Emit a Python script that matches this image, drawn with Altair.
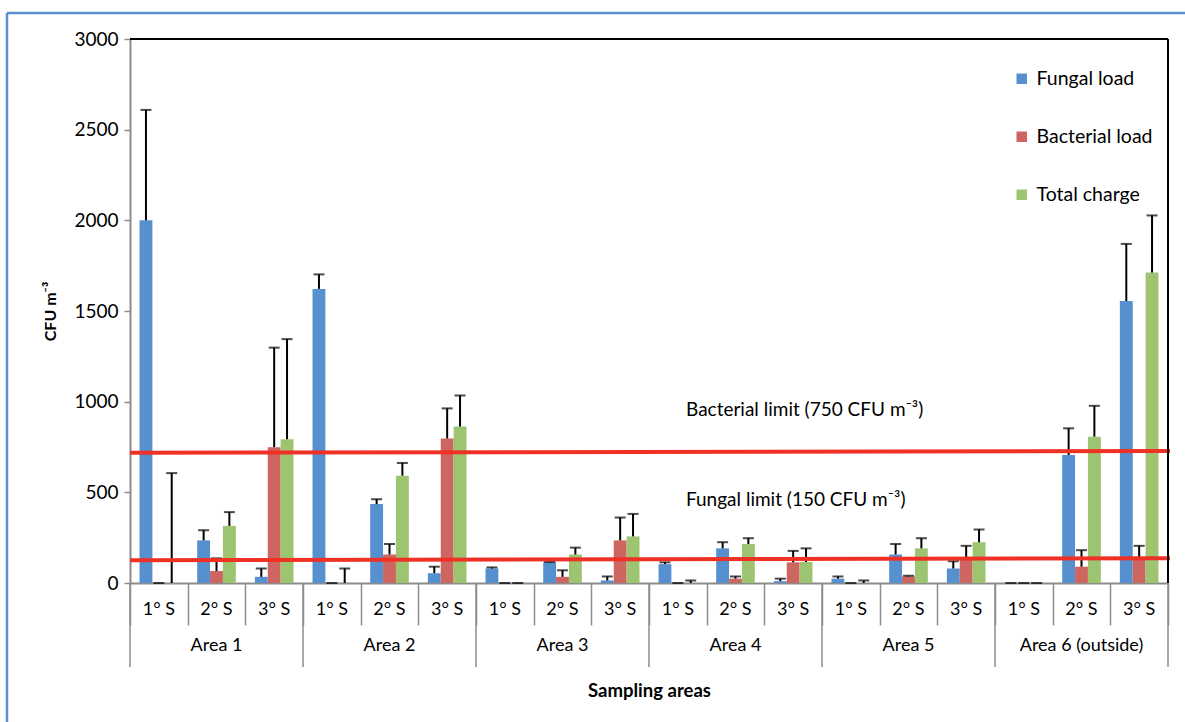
import altair as alt
import pandas as pd

areas = ["Area 1", "Area 2", "Area 3", "Area 4", "Area 5", "Area 6 (outside)"]
samplings = ["1° S", "2° S", "3° S"]
series = ["Fungal load", "Bacterial load", "Total charge"]
colors = ["#5690CE", "#CD6560", "#9DC471"]

fungal = [2000, 235, 34, 1622, 435, 54, 80, 114, 14, 104, 191, 10, 24, 157, 80, 0, 706, 1555]
fungal_top = [2609, 291, 80, 1702, 462, 90, 86, 116, 36, 114, 225, 24, 36, 215, 120, 0, 853, 1870]
bacterial = [0, 66, 749, 0, 157, 797, 0, 34, 235, 0, 24, 114, 0, 36, 136, 0, 90, 140]
bacterial_top = [0, 136, 1298, 0, 215, 963, 0, 70, 361, 0, 36, 177, 0, 40, 205, 0, 181, 205]
total = [0, 315, 793, 0, 592, 863, 0, 157, 257, 0, 215, 116, 0, 191, 225, 0, 807, 1712]
total_top = [606, 391, 1345, 80, 662, 1034, 0, 195, 381, 14, 247, 191, 14, 247, 295, 0, 977, 2027]

limit_labels = ["Bacterial limit (750 CFU m⁻³)", "Fungal limit (150 CFU m⁻³)"]
limit_left = [718, 126]
limit_right = [728, 136]
limit_text_y = [954, 458]

W, H = 1038, 544

cats = [f"{a}|{s}" for a in areas for s in samplings]
cat_area = [a for a in areas for s in samplings]
cat_samp = [s for a in areas for s in samplings]

rows = []
for vals, tops, name in [(fungal, fungal_top, series[0]), (bacterial, bacterial_top, series[1]), (total, total_top, series[2])]:
    for c, v, t in zip(cats, vals, tops):
        rows.append({"cat": c, "series": name, "value": v, "upper": t})
df = pd.DataFrame(rows)

cat_df = pd.DataFrame({"cat": cats, "area": cat_area, "samp": cat_samp})
area_mid = cat_df[cat_df["samp"] == samplings[1]]
area_start = cat_df[cat_df["samp"] == samplings[0]]
area_end = cat_df.tail(1)
lim_df = pd.DataFrame({"label": limit_labels, "y1": limit_left, "y2": limit_right, "ty": limit_text_y})

FONT = "Lato"
GRAY = "#8c8c8c"

xscale = alt.Scale(domain=cats, paddingInner=0, paddingOuter=0)
xenc = alt.X("cat:N", scale=xscale, sort=cats,
             axis=alt.Axis(labels=False, tickBand="extent", tickSize=42, tickColor=GRAY,
                           tickWidth=1.5, domainColor=GRAY, domainWidth=2,
                           title="Sampling areas", titleY=107, titleBaseline="middle",
                           titleFontSize=18.5, titleFontWeight="bold", titleColor="black"))
xoff = alt.XOffset("series:N", sort=series, scale=alt.Scale(domain=series, paddingOuter=0.74, paddingInner=0))
yscale = alt.Scale(domain=[0, 3000], nice=False)

bars = alt.Chart(df).mark_bar().encode(
    x=xenc,
    xOffset=xoff,
    y=alt.Y("value:Q", scale=yscale,
            axis=alt.Axis(values=[0, 500, 1000, 1500, 2000, 2500, 3000], format="d", grid=False, tickSize=6,
                          tickColor=GRAY, tickWidth=1.5, domainColor=GRAY, domainWidth=2,
                          labelFontSize=19, labelPadding=6, labelColor="black",
                          title="CFU m⁻³", titleFontSize=16, titleFontWeight="bold",
                          titleColor="black", titleX=-80, titleY=H / 2, titleAngle=-90,
                          titleBaseline="middle", titleAlign="center")),
    color=alt.Color("series:N", sort=series, scale=alt.Scale(domain=series, range=colors),
                    legend=alt.Legend(title=None, orient="none", legendX=882, legendY=30,
                                      symbolType="square", symbolSize=110, symbolStrokeWidth=0,
                                      labelFontSize=19.5, labelColor="black", rowPadding=37,
                                      labelOffset=5)),
)

err = alt.Chart(df).mark_rule(color="black", strokeWidth=2).encode(
    x=alt.X("cat:N", sort=cats), xOffset=xoff, y=alt.Y("value:Q", scale=yscale), y2="upper:Q")
caps = alt.Chart(df).mark_tick(color="black", thickness=2, size=11, orient="horizontal").encode(
    x=alt.X("cat:N", sort=cats), xOffset=xoff, y=alt.Y("upper:Q", scale=yscale))

limits = alt.Chart(lim_df).mark_rule(color="#EE3124", strokeWidth=4).encode(
    x=alt.value(0), x2=alt.value(W + 2), y=alt.Y("y1:Q", scale=yscale), y2="y2:Q")
limit_text = alt.Chart(lim_df).mark_text(align="left", baseline="middle", fontSize=19, font=FONT,
                                         color="black").encode(
    x=alt.value(556), y=alt.Y("ty:Q", scale=yscale), text="label:N")

samp_text = alt.Chart(cat_df).mark_text(fontSize=18, font=FONT, color="black", baseline="middle").encode(
    x=alt.X("cat:N", sort=cats), y=alt.value(H + 27), text="samp:N")
area_text = alt.Chart(area_mid).mark_text(fontSize=18, font=FONT, color="black", baseline="middle").encode(
    x=alt.X("cat:N", sort=cats), y=alt.value(H + 63), text="area:N")
area_sep = alt.Chart(area_start).mark_rule(color=GRAY, strokeWidth=1.5).encode(
    x=alt.X("cat:N", sort=cats, bandPosition=0), y=alt.value(H), y2=alt.value(H + 84))
area_sep_end = alt.Chart(area_end).mark_rule(color=GRAY, strokeWidth=1.5).encode(
    x=alt.X("cat:N", sort=cats, bandPosition=1), y=alt.value(H), y2=alt.value(H + 84))

top_border = alt.Chart(lim_df.head(1)).mark_rule(color="black", strokeWidth=2).encode(
    x=alt.value(0), x2=alt.value(W), y=alt.value(0))
right_border = alt.Chart(lim_df.head(1)).mark_rule(color="black", strokeWidth=2).encode(
    x=alt.value(W), y=alt.value(0), y2=alt.value(H))
frame_top = alt.Chart(lim_df.head(1)).mark_rule(color="#5B8FD0", strokeWidth=2.5).encode(
    x=alt.value(-123), x2=alt.value(W + 30), y=alt.value(-26))
frame_left = alt.Chart(lim_df.head(1)).mark_rule(color="#5B8FD0", strokeWidth=2.5).encode(
    x=alt.value(-123), y=alt.value(-26), y2=alt.value(H + 150))

chart = alt.layer(
    frame_top, frame_left, bars, err, caps, limits, limit_text, samp_text, area_text,
    area_sep, area_sep_end, top_border, right_border
).properties(
    width=W, height=H, autosize="none",
    padding={"left": 130, "top": 39, "right": 17, "bottom": 139},
    background="white",
).configure_view(stroke=None).configure(font=FONT)

chart.save("out.html", embed_options={"renderer": "svg", "actions": False})
